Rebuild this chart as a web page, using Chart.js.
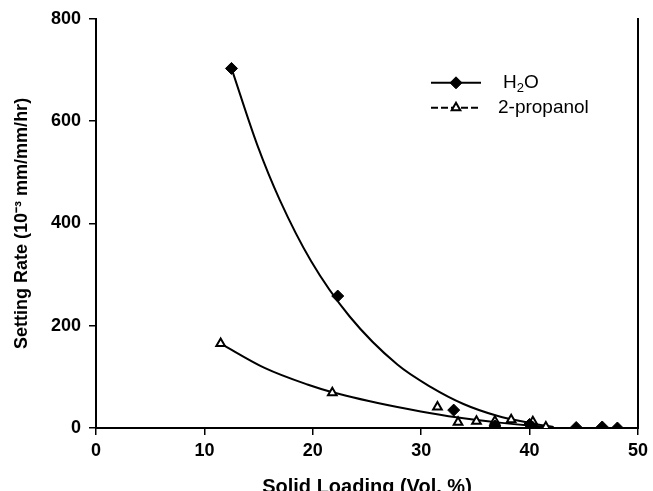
<!DOCTYPE html>
<html>
<head>
<meta charset="utf-8">
<script src="https://cdn.jsdelivr.net/npm/chart.js@4/dist/chart.umd.min.js"></script>
<style>
  body { margin: 0; background: #fff; }
</style>
</head>
<body>
<canvas id="setting-chart" width="653" height="491"></canvas>
<script>
// measured points
const h2oLoading = [12.5, 22.3, 33.0, 36.8, 40.0, 40.3, 44.3, 46.7, 48.1];
const h2oRate = [703, 258, 35, 4, 7, 1, 1, 2, 0];
const propLoading = [11.5, 21.8, 31.5, 33.4, 35.1, 36.8, 38.3, 40.3, 41.5];
const propRate = [165, 69, 41, 11, 13, 13, 16, 12, 2];

// fitted curves
const h2oFitLoading = [12.5, 14.9, 16.95, 19.85, 23.4, 27.8, 30.9, 33.9, 37.0, 40.0, 42.2];
const h2oFitRate = [703, 552, 446, 326, 218, 124, 80, 47, 24, 10, 2];
const propFitLoading = [11.5, 15.6, 19.5, 21.8, 27.8, 30.9, 33.9, 37.0, 40.0, 42.2];
const propFitRate = [165, 117, 85, 70, 41, 29, 19, 11, 5, 2];

const xTicks = [0, 10, 20, 30, 40, 50];
const yTicks = [0, 200, 400, 600, 800];

const fontFamily = '"Liberation Sans", Arial, sans-serif';

function toPoints(xs, ys) {
    return xs.map((x, i) => ({ x: x, y: ys[i] }));
}

// legend with line + marker samples (solid for H2O, dashed for 2-propanol)
const lineLegend = {
    id: 'lineLegend',
    afterDraw(chart) {
        const c = chart.ctx;
        const area = chart.chartArea;
        const x0 = area.left + 335;
        const x1 = x0 + 50;
        const rows = [
            { ds: chart.data.datasets[0], y: area.top + 64, dash: [], parts: [['H', 0], ['2', 1], ['O', 0]], tx: x1 + 22 },
            { ds: chart.data.datasets[1], y: area.top + 89, dash: [7, 3], parts: [['2-propanol', 0]], tx: x1 + 17 }
        ];
        c.save();
        rows.forEach(r => {
            c.setLineDash(r.dash);
            c.strokeStyle = '#000';
            c.lineWidth = 2;
            c.beginPath();
            c.moveTo(x0, r.y);
            c.lineTo(x1, r.y);
            c.stroke();
            c.setLineDash([]);
            c.fillStyle = r.ds.backgroundColor;
            c.strokeStyle = r.ds.borderColor;
            c.lineWidth = r.ds.borderWidth;
            Chart.helpers.drawPoint(c, {
                pointStyle: r.ds.pointStyle,
                radius: r.ds.pointRadius,
                borderWidth: r.ds.borderWidth,
                rotation: 0
            }, (x0 + x1) / 2, r.y);

            c.fillStyle = '#000';
            c.textBaseline = 'middle';
            c.textAlign = 'left';
            let tx = r.tx;
            r.parts.forEach(p => {
                const sub = p[1] === 1;
                c.font = (sub ? 13 : 19) + 'px ' + fontFamily;
                c.fillText(p[0], tx, r.y + (sub ? 6 : 0));
                tx += c.measureText(p[0]).width;
            });
        });
        c.restore();
    }
};

const ctx = document.getElementById('setting-chart').getContext('2d');
const chart = new Chart(ctx, {
    type: 'scatter',
    data: {
        datasets: [{
            label: 'H2O',
            data: toPoints(h2oLoading, h2oRate),
            pointStyle: 'rectRot',
            pointRadius: 6,
            backgroundColor: '#000',
            borderColor: '#000',
            borderWidth: 1,
            showLine: false
        }, {
            label: '2-propanol',
            data: toPoints(propLoading, propRate),
            pointStyle: 'triangle',
            pointRadius: 5,
            backgroundColor: '#fff',
            borderColor: '#000',
            borderWidth: 2,
            showLine: false
        }, {
            label: 'H2O fit',
            type: 'line',
            data: toPoints(h2oFitLoading, h2oFitRate),
            borderColor: '#000',
            borderWidth: 2,
            pointRadius: 0,
            cubicInterpolationMode: 'monotone',
            fill: false
        }, {
            label: '2-propanol fit',
            type: 'line',
            data: toPoints(propFitLoading, propFitRate),
            borderColor: '#000',
            borderWidth: 2,
            pointRadius: 0,
            cubicInterpolationMode: 'monotone',
            fill: false
        }]
    },
    options: {
        responsive: false,
        animation: false,
        devicePixelRatio: 1,
        layout: { padding: { top: 15, left: 0, right: 0, bottom: 0 } },
        plugins: {
            legend: { display: false },
            tooltip: { enabled: false }
        },
        scales: {
            x: {
                type: 'linear',
                min: 0,
                max: 50,
                afterBuildTicks: s => { s.ticks = xTicks.map(v => ({ value: v })); },
                afterFit: s => { s.height = 63; },
                ticks: { color: '#000', padding: 5, font: { family: fontFamily, size: 18, weight: 'bold' } },
                grid: { drawOnChartArea: false, tickLength: 7, color: '#000', lineWidth: 1.5 },
                border: { color: '#000', width: 2 },
                title: {
                    display: true,
                    text: 'Solid Loading (Vol. %)',
                    color: '#000',
                    font: { family: fontFamily, size: 20, weight: 'bold' },
                    padding: { top: 0, bottom: -8 }
                }
            },
            y: {
                type: 'linear',
                min: 0,
                max: 800,
                afterBuildTicks: s => { s.ticks = yTicks.map(v => ({ value: v })); },
                afterFit: s => { s.width = 96; },
                ticks: { color: '#000', padding: 8, font: { family: fontFamily, size: 18, weight: 'bold' } },
                grid: { drawOnChartArea: false, tickLength: 7, color: '#000', lineWidth: 1.5 },
                border: { color: '#000', width: 2 },
                title: {
                    display: true,
                    text: 'Setting Rate (10\u207B\u00B3 mm/mm/hr)',
                    color: '#000',
                    font: { family: fontFamily, size: 18, weight: 'bold' },
                    padding: { top: 11, bottom: 0 }
                }
            },
            y2: {
                type: 'linear',
                position: 'right',
                min: 0,
                max: 800,
                afterFit: s => { s.width = 11; },
                ticks: { display: false },
                grid: { drawOnChartArea: false, drawTicks: false },
                border: { color: '#000', width: 2 }
            }
        }
    },
    plugins: [lineLegend]
});
</script>
</body>
</html>
